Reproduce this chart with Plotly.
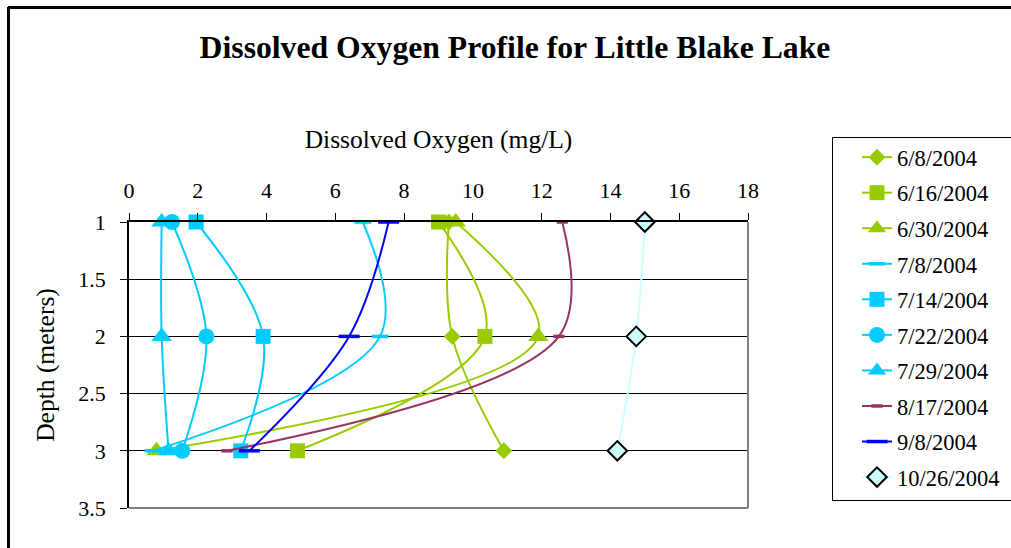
import plotly.graph_objects as go

# ---------------- data ----------------
depths = [1, 2, 3]
series_names = ["6/8/2004", "6/16/2004", "6/30/2004", "7/8/2004", "7/14/2004",
                "7/22/2004", "7/29/2004", "8/17/2004", "9/8/2004", "10/26/2004"]
do_6_8 = [9.3, 9.4, 10.9]
do_6_16 = [9.0, 10.35, 4.9]
do_6_30 = [9.5, 11.9, 0.8]
do_7_8 = [6.8, 7.3, 0.7]
do_7_14 = [1.95, 3.9, 3.25]
do_7_22 = [1.25, 2.25, 1.55]
do_7_29 = [0.95, 0.95, 1.15]
do_8_17 = [12.6, 12.5, 2.85]
do_9_8 = [7.55, 6.4, 3.5]
do_10_26 = [15.0, 14.75, 14.2]
x_ticks = [0, 2, 4, 6, 8, 10, 12, 14, 16, 18]
y_ticks = [1, 1.5, 2, 2.5, 3, 3.5]

values = [do_6_8, do_6_16, do_6_30, do_7_8, do_7_14, do_7_22, do_7_29,
          do_8_17, do_9_8, do_10_26]

GREEN = "#99CC00"
CYAN = "#00CCFF"
MAROON = "#993366"
BLUE = "#0000FF"
LCYAN = "#CCFFFF"

styles = [
    dict(color=GREEN, symbol="diamond", size=13, lc=GREEN, lw=0),
    dict(color=GREEN, symbol="square", size=15, lc=GREEN, lw=0),
    dict(color=GREEN, symbol="triangle-up", size=18, lc=GREEN, lw=0),
    dict(color=CYAN, symbol="line-ew", size=12, lc=CYAN, lw=3.5),
    dict(color=CYAN, symbol="square", size=15, lc=CYAN, lw=0),
    dict(color=CYAN, symbol="circle", size=16, lc=CYAN, lw=0),
    dict(color=CYAN, symbol="triangle-up", size=18, lc=CYAN, lw=0),
    dict(color=MAROON, symbol="line-ew", size=8, lc=MAROON, lw=3.5),
    dict(color=BLUE, symbol="line-ew", size=15, lc=BLUE, lw=3.5),
    dict(color=LCYAN, symbol="diamond", size=15, lc="black", lw=2),
]

FONT = "Liberation Serif"
W, H = 1011, 548
L, R, T, B = 129, 748, 222, 508


def px(x):
    return (x - L) / (R - L)


def py(y):
    return (B - y) / (B - T)


fig = go.Figure()
for i, (name, vals, st) in enumerate(zip(series_names, values, styles)):
    fig.add_trace(go.Scatter(
        x=vals, y=depths, name=name, mode="lines+markers",
        legendgroup=f"g{i}",
        line=dict(color=st["color"], width=2, shape="spline", smoothing=1),
        marker=dict(symbol=st["symbol"], size=st["size"], color=st["color"],
                    line=dict(color=st["lc"], width=st["lw"])),
        cliponaxis=False,
    ))

shapes = [
    # gray right / bottom plot border
    dict(type="line", xref="paper", yref="paper", x0=1, x1=1, y0=0, y1=1,
         line=dict(color="#808080", width=2)),
    dict(type="line", xref="paper", yref="paper", x0=0, x1=1, y0=0, y1=0,
         line=dict(color="#808080", width=2)),
    # outer chart border (top and left)
    dict(type="line", xref="paper", yref="paper", x0=px(8), x1=px(1015),
         y0=py(7.5), y1=py(7.5), line=dict(color="black", width=3)),
    dict(type="line", xref="paper", yref="paper", x0=px(8.5), x1=px(8.5),
         y0=py(7), y1=py(552), line=dict(color="black", width=3)),
    # legend box
    dict(type="rect", xref="paper", yref="paper", x0=px(832.5), x1=px(1015),
         y0=py(137.5), y1=py(500.5), line=dict(color="black", width=1)),
]

fig.update_layout(
    width=W, height=H,
    margin=dict(l=L, r=W - R, t=T, b=H - B, autoexpand=False),
    paper_bgcolor="white", plot_bgcolor="white",
    font=dict(family=FONT, color="black", size=22),
    title=dict(text="<b>Dissolved Oxygen Profile for Little Blake Lake</b>",
               x=515 / W, xref="container", xanchor="center",
               y=1 - 47 / H, yref="container", yanchor="middle",
               font=dict(family=FONT, size=31.7, color="black")),
    showlegend=True,
    legend=dict(x=px(857), y=py(136), xanchor="left", yanchor="top",
                bgcolor="rgba(0,0,0,0)", borderwidth=0,
                font=dict(family=FONT, size=22.5, color="black"),
                tracegroupgap=3.3, itemwidth=30, maxheight=420),
    shapes=shapes,
)

fig.update_xaxes(
    range=[0, 18], tickvals=x_ticks, side="top",
    showgrid=False, zeroline=False,
    showline=True, linecolor="black", linewidth=2,
    ticks="outside", ticklen=7, tickcolor="black", tickwidth=1,
    ticklabelstandoff=6,
    tickfont=dict(family=FONT, size=22, color="black"),
    title=dict(text="Dissolved Oxygen (mg/L)", standoff=22,
               font=dict(family=FONT, size=25.5, color="black")),
)
fig.update_yaxes(
    range=[3.5, 1], tickvals=y_ticks,
    showgrid=True, gridcolor="black", gridwidth=1, zeroline=False,
    showline=True, linecolor="black", linewidth=1.5,
    ticks="outside", ticklen=7, tickcolor="black", tickwidth=1,
    ticklabelstandoff=10,
    tickfont=dict(family=FONT, size=22, color="black"),
    title=dict(text="Depth (meters)", standoff=16,
               font=dict(family=FONT, size=25.5, color="black")),
)

fig.write_html("out.html")
